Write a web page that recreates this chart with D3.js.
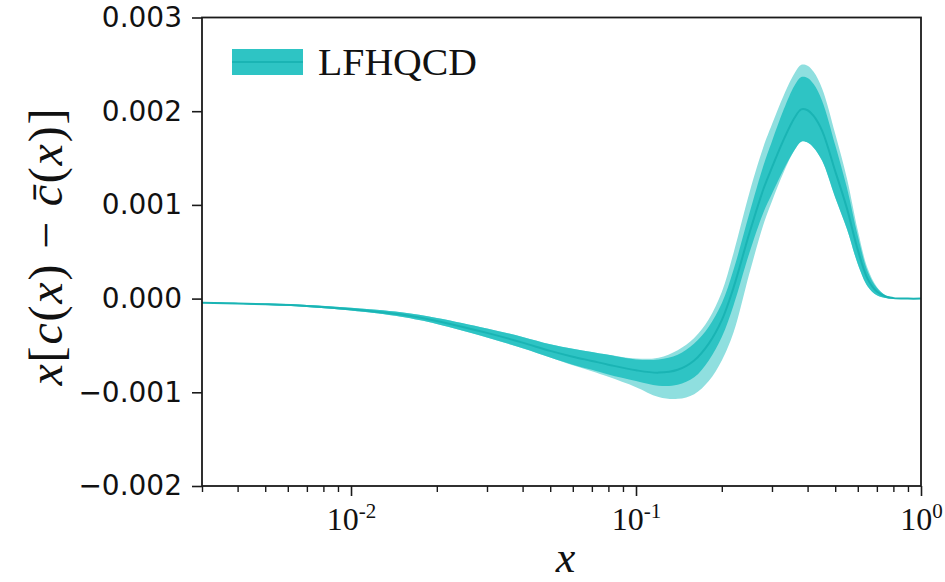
<!DOCTYPE html>
<html><head><meta charset="utf-8">
<script src="https://cdn.jsdelivr.net/npm/d3@7"></script>
<style>html,body{margin:0;padding:0;background:#fff;}svg{display:block;}</style>
</head><body>
<svg id="chart" width="945" height="582"></svg>
<script>
// ---- data ----
const xValues = [0.003,0.005,0.007,0.01,0.015,0.02,0.03,0.04,0.05,0.06,0.07,0.08,0.1,0.12,0.14,0.16,0.18,0.2,0.22,0.25,0.28,0.3,0.33,0.36,0.38,0.4,0.42,0.45,0.5,0.55,0.6,0.65,0.7,0.75,0.8,0.9,1.0];
const central = [-0.043e-3,-0.060e-3,-0.078e-3,-0.113e-3,-0.170e-3,-0.238e-3,-0.366e-3,-0.470e-3,-0.558e-3,-0.620e-3,-0.665e-3,-0.705e-3,-0.765e-3,-0.790e-3,-0.760e-3,-0.660e-3,-0.480e-3,-0.230e-3,0.120e-3,0.700e-3,1.170e-3,1.400e-3,1.700e-3,1.930e-3,2.020e-3,2.010e-3,1.950e-3,1.790e-3,1.360e-3,0.960e-3,0.520e-3,0.210e-3,0.075e-3,0.022e-3,0.005e-3,0,0];
const innerLo = [-0.048e-3,-0.068e-3,-0.089e-3,-0.128e-3,-0.194e-3,-0.270e-3,-0.414e-3,-0.530e-3,-0.628e-3,-0.705e-3,-0.760e-3,-0.810e-3,-0.880e-3,-0.930e-3,-0.920e-3,-0.840e-3,-0.660e-3,-0.410e-3,-0.070e-3,0.490e-3,0.920e-3,1.120e-3,1.380e-3,1.585e-3,1.675e-3,1.665e-3,1.610e-3,1.470e-3,1.080e-3,0.740e-3,0.370e-3,0.130e-3,0.035e-3,0.007e-3,0,0,0];
const innerHi = [-0.038e-3,-0.052e-3,-0.067e-3,-0.098e-3,-0.146e-3,-0.206e-3,-0.318e-3,-0.410e-3,-0.488e-3,-0.535e-3,-0.570e-3,-0.600e-3,-0.650e-3,-0.650e-3,-0.600e-3,-0.480e-3,-0.300e-3,-0.050e-3,0.310e-3,0.910e-3,1.420e-3,1.680e-3,2.020e-3,2.275e-3,2.365e-3,2.355e-3,2.290e-3,2.110e-3,1.640e-3,1.180e-3,0.670e-3,0.290e-3,0.115e-3,0.037e-3,0.010e-3,0,0];
const outerLo = [-0.048e-3,-0.068e-3,-0.089e-3,-0.128e-3,-0.194e-3,-0.270e-3,-0.414e-3,-0.530e-3,-0.628e-3,-0.712e-3,-0.775e-3,-0.835e-3,-0.945e-3,-1.050e-3,-1.070e-3,-1.020e-3,-0.880e-3,-0.660e-3,-0.360e-3,0.270e-3,0.790e-3,1.040e-3,1.350e-3,1.585e-3,1.675e-3,1.665e-3,1.610e-3,1.470e-3,1.080e-3,0.740e-3,0.370e-3,0.130e-3,0.035e-3,0.007e-3,0,0,0];
const outerHi = [-0.038e-3,-0.052e-3,-0.067e-3,-0.098e-3,-0.146e-3,-0.206e-3,-0.318e-3,-0.410e-3,-0.488e-3,-0.535e-3,-0.570e-3,-0.600e-3,-0.640e-3,-0.630e-3,-0.550e-3,-0.420e-3,-0.220e-3,0.070e-3,0.490e-3,1.130e-3,1.620e-3,1.860e-3,2.170e-3,2.405e-3,2.495e-3,2.485e-3,2.420e-3,2.240e-3,1.760e-3,1.280e-3,0.730e-3,0.320e-3,0.125e-3,0.037e-3,0.010e-3,0,0];

const yTickValues = [0.003,0.002,0.001,0.000,-0.001,-0.002];
const yTickLabels = ["0.003","0.002","0.001","0.000","\u22120.001","\u22120.002"];
const xMajorTicks = [0.01,0.1,1];
const xMajorExponents = ["-2","-1","0"];
const xMinorTicks = [0.003,0.004,0.005,0.006,0.007,0.008,0.009,0.02,0.03,0.04,0.05,0.06,0.07,0.08,0.09,0.2,0.3,0.4,0.5,0.6,0.7,0.8,0.9];
const seriesName = "LFHQCD";

// ---- layout ----
const L = 202, R = 921, T = 17.5, B = 486;
const colOuter = "#8fdfdf", colInner = "#2ec4c4", colLine = "#1ab4b4", axisCol = "#1a1a1a";

const svg = d3.select("#chart");
const x = d3.scaleLog().domain([0.003, 1]).range([L, R]);
const y = d3.scaleLinear().domain([-0.002, 0.003]).range([B, T]);

const rows = xValues.map((v,i)=>({x:v,c:central[i],il:innerLo[i],ih:innerHi[i],ol:outerLo[i],oh:outerHi[i]}));
const curve = d3.curveCatmullRom.alpha(0.5);

const g = svg.append("g");
g.append("path").datum(rows)
  .attr("d", d3.area().curve(curve).x(d=>x(d.x)).y0(d=>y(d.ol)).y1(d=>y(d.oh)))
  .attr("fill", colOuter);
g.append("path").datum(rows)
  .attr("d", d3.area().curve(curve).x(d=>x(d.x)).y0(d=>y(d.il)).y1(d=>y(d.ih)))
  .attr("fill", colInner);
g.append("path").datum(rows)
  .attr("d", d3.line().curve(curve).x(d=>x(d.x)).y(d=>y(d.c)))
  .attr("fill", "none").attr("stroke", colLine).attr("stroke-width", 2);

// ---- axes ----
const yAxis = d3.axisLeft(y).tickValues(yTickValues).tickSize(10).tickPadding(10)
  .tickFormat((d,i)=>yTickLabels[i]);
const ya = svg.append("g").attr("transform",`translate(${L},0)`).call(yAxis);
ya.select(".domain").remove();
ya.selectAll(".tick line").attr("stroke", axisCol).attr("stroke-width", 1.6);
ya.selectAll(".tick text").attr("font-family","'DejaVu Sans', sans-serif").attr("font-size", 28).attr("fill","#111");

const xMinorAxis = d3.axisBottom(x).tickValues(xMinorTicks).tickSize(6).tickFormat("");
const xm = svg.append("g").attr("transform",`translate(0,${B})`).call(xMinorAxis);
xm.select(".domain").remove();
xm.selectAll(".tick line").attr("stroke", axisCol).attr("stroke-width", 1.4);

const xAxis = d3.axisBottom(x).tickValues(xMajorTicks).tickSize(10).tickFormat("");
const xa = svg.append("g").attr("transform",`translate(0,${B})`).call(xAxis);
xa.select(".domain").remove();
xa.selectAll(".tick line").attr("stroke", axisCol).attr("stroke-width", 1.6);
xa.selectAll(".tick").each(function(d,i){
  const t = d3.select(this).append("text").attr("y", 44).attr("text-anchor","middle")
    .attr("font-family","'Liberation Serif', serif").attr("fill","#111").attr("font-size",32);
  t.append("tspan").text("10");
  t.append("tspan").attr("font-size",21).attr("dy",-12).text(xMajorExponents[i]);
});

// frame
svg.append("rect").attr("x",L).attr("y",T).attr("width",R-L).attr("height",B-T)
  .attr("fill","none").attr("stroke",axisCol).attr("stroke-width",1.8);

// axis labels
svg.append("text").attr("x", (L+R)/2+4).attr("y", 572).attr("text-anchor","middle")
  .attr("font-family","'Liberation Serif', serif").attr("font-style","italic").attr("font-size",44)
  .attr("fill","#111").text("x");

const yl = svg.append("text").attr("transform","translate(62,247) rotate(-90)")
  .attr("text-anchor","middle").attr("font-family","'Liberation Serif', serif").attr("font-size",48)
  .attr("fill","#111").attr("textLength",277).attr("lengthAdjust","spacing");
const parts = [["x",1],["[",0],["c",1],["(",0],["x",1],[")",0],[" \u2212 ",0],["c\u0304",1],["(",0],["x",1],[")",0],["]",0]];
parts.forEach(p=>yl.append("tspan").attr("font-style", p[1]?"italic":"normal").text(p[0]));

// legend
const lg = svg.append("g");
lg.append("rect").attr("x",232).attr("y",49).attr("width",71).attr("height",26).attr("fill",colInner);
lg.append("line").attr("x1",232).attr("x2",303).attr("y1",62).attr("y2",62).attr("stroke",colLine).attr("stroke-width",2);
lg.append("text").attr("x",318).attr("y",75).attr("font-family","'Liberation Serif', serif")
  .attr("font-size",38).attr("fill","#111").attr("textLength",159).attr("lengthAdjust","spacingAndGlyphs").text(seriesName);
</script>
</body></html>
